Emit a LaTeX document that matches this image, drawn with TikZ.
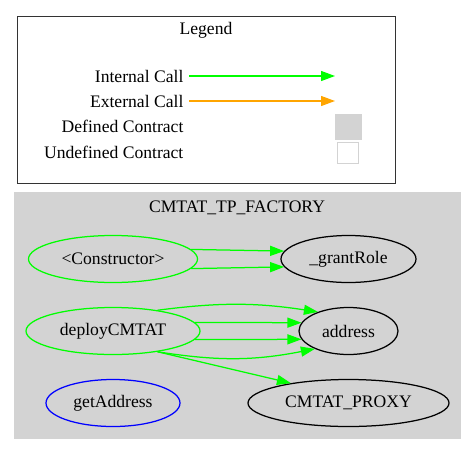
\documentclass[tikz,border=0pt]{standalone}
\usepackage{fontspec}
\setmainfont{Liberation Serif}
\usetikzlibrary{arrows.meta,shapes.geometric,positioning}
\definecolor{callgreen}{HTML}{00FF00}
\definecolor{callorange}{HTML}{FFA500}
\definecolor{ctgray}{HTML}{D3D3D3}
\definecolor{fnblue}{HTML}{0000FF}

\begin{document}
\begin{tikzpicture}[x=1pt,y=-1pt,->,>={Triangle[length=14pt,width=10pt]},
        line width=1.25pt,font=\fontsize{17.6}{20}\selectfont,node distance=72pt,
        fn/.style={ellipse,draw,inner sep=0pt,minimum height=47pt},
        leg/.style={anchor=east,inner sep=2.5pt}]

  \useasboundingbox (0,0) rectangle (476,453);

  % legend
  \draw[-,line width=1pt,black!80] (17,16) rectangle (395,183);
  \node (legend) at (206,30) {Legend};
  \node[leg] (intcall) at (186.5,76) {Internal Call};
  \node[leg] (extcall) at (186.5,101) {External Call};
  \node[leg] (defct) at (186.5,126) {Defined Contract};
  \node[leg] (undefct) at (186.5,152) {Undefined Contract};
  \coordinate (intend) at (335,76);
  \coordinate (extend) at (335,101);
  \node[draw=ctgray,fill=ctgray,inner sep=0pt,minimum size=25pt] (defbox) at (348.5,127) {};
  \node[draw=ctgray,fill=white,inner sep=0pt,minimum size=21pt] (undefbox) at (348,153) {};
  \draw[callgreen,shorten <=2.5pt] (intcall.east) -- (intend);
  \draw[callorange,shorten <=2.5pt] (extcall.east) -- (extend);

  % contract
  \draw[-,ctgray,fill=ctgray] (15,193) rectangle (460,438);
  \node (factory) at (237,208) {CMTAT\_TP\_FACTORY};

  \node[fn,draw=callgreen,minimum width=169pt] (ctor) at (113,259) {<Constructor>};
  \node[fn,minimum width=135pt] (grant) [right of=ctor,node distance=235.5pt] {\_grantRole};
  \node[fn,draw=callgreen,minimum width=174pt] (deploy) [below of=ctor] {deployCMTAT};
  \node[fn,minimum width=99pt] (address) [below of=grant] {address};
  \node[fn,draw=fnblue,minimum width=134pt] (getaddr) [below of=deploy] {getAddress};
  \node[fn,minimum width=201pt] (proxy) [below of=address] {CMTAT\_PROXY};

  \path[callgreen]
        (ctor.7) edge (grant.173)
        (ctor.-7) edge (grant.-173)
        (deploy.25) edge [bend left=8] (address.148)
        (deploy.6) edge (address.170)
        (deploy.-6) edge (address.-170)
        (deploy.-25) edge [bend right=10] (address.-152)
        (deploy.-25) edge (proxy.161);

\end{tikzpicture}
\end{document}
